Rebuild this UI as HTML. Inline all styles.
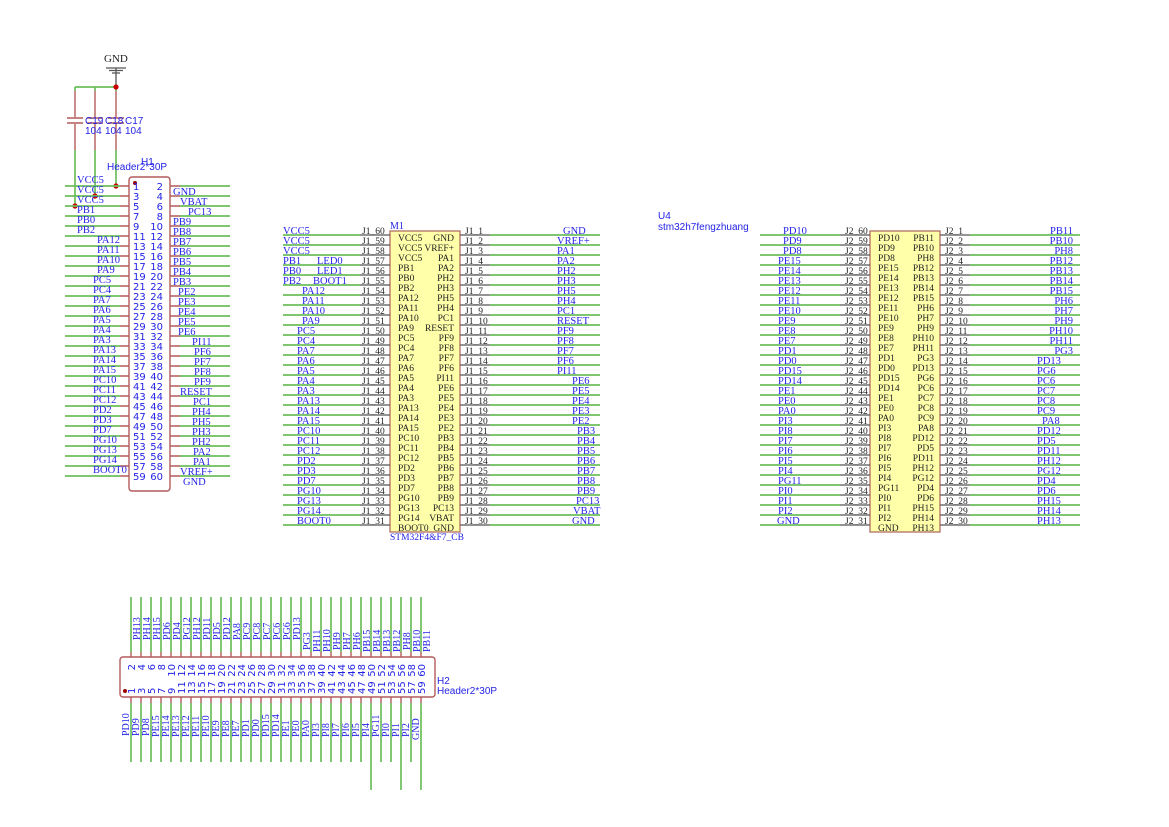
<!DOCTYPE html>
<html><head><meta charset="utf-8"><style>
html,body{margin:0;padding:0;background:#fff}
svg{display:block}
.n{font-family:"Liberation Serif",serif;font-size:10.5px;fill:#2323e6}
.j{font-family:"Liberation Serif",serif;font-size:9.5px;fill:#222}
.k{font-family:"Liberation Serif",serif;font-size:9.5px;fill:#222}
.p{font-family:"DejaVu Sans","Liberation Sans",sans-serif;font-size:10px;fill:#2323e6}
.q{font-family:"Liberation Sans",sans-serif;font-size:10px;fill:#2323e6}
.g{stroke:#6cbf5c;stroke-width:1.7;fill:none}
.r{stroke:#b35a5a;stroke-width:1.4;fill:none}
.d{stroke:#555;stroke-width:1.3;fill:none}
.e{text-anchor:end}
</style></head><body>
<svg width="1169" height="827" viewBox="0 0 1169 827" xmlns="http://www.w3.org/2000/svg">
<!-- GND symbol and caps -->
<text x="104" y="62" class="k" style="font-size:11px">GND</text>
<path class="d" d="M106 68h20M109 70.5h14M112 73h8M116 68v19"/>
<path class="g" d="M75 87h41M75 87v4M95 87v4M116 87v4M75 150v56M95 150v46M116 150v36"/>
<path class="r" stroke="#c98a8a" d="M75 91v26M95 91v26M116 91v26M75 124v26M95 124v26M116 124v26"/>
<path class="r" stroke-width="2" d="M67 118h16M67 123h16M87 118h16M87 123h16M108 118h16M108 123h16"/>
<text x="85" y="124" class="q" style="font-size:10px">C19</text><text x="85" y="134" class="q">104</text>
<text x="105" y="124" class="q">C18</text><text x="105" y="134" class="q">104</text>
<text x="125" y="124" class="q">C17</text><text x="125" y="134" class="q">104</text>
<circle cx="116" cy="87" r="2.6" fill="#c00"/><circle cx="116" cy="186" r="2.6" fill="#c00"/>
<circle cx="95" cy="196" r="2.6" fill="#c00"/><circle cx="75" cy="206" r="2.6" fill="#c00"/>

<!-- H1 -->
<text x="141" y="165" class="q">H1</text>
<text x="107" y="170" class="q">Header2*30P</text>
<rect x="129" y="177" width="41" height="314" rx="3" class="r" fill="none"/>
<circle cx="135" cy="183" r="2" fill="#900"/>
<path class="g" d="M65 186h55M65 196h55M65 206h55M65 216h55M65 226h55M65 236h55M65 246h55M65 256h55M65 266h55M65 276h55M65 286h55M65 296h55M65 306h55M65 316h55M65 326h55M65 336h55M65 346h55M65 356h55M65 366h55M65 376h55M65 386h55M65 396h55M65 406h55M65 416h55M65 426h55M65 436h55M65 446h55M65 456h55M65 466h55M65 476h55
M180 186h50M180 196h50M180 206h50M180 216h50M180 226h50M180 236h50M180 246h50M180 256h50M180 266h50M180 276h50M180 286h50M180 296h50M180 306h50M180 316h50M180 326h50M180 336h50M180 346h50M180 356h50M180 366h50M180 376h50M180 386h50M180 396h50M180 406h50M180 416h50M180 426h50M180 436h50M180 446h50M180 456h50M180 466h50M180 476h50"/>
<path class="r" d="M120 186h9M120 196h9M120 206h9M120 216h9M120 226h9M120 236h9M120 246h9M120 256h9M120 266h9M120 276h9M120 286h9M120 296h9M120 306h9M120 316h9M120 326h9M120 336h9M120 346h9M120 356h9M120 366h9M120 376h9M120 386h9M120 396h9M120 406h9M120 416h9M120 426h9M120 436h9M120 446h9M120 456h9M120 466h9M120 476h9
M170 186h10M170 196h10M170 206h10M170 216h10M170 226h10M170 236h10M170 246h10M170 256h10M170 266h10M170 276h10M170 286h10M170 296h10M170 306h10M170 316h10M170 326h10M170 336h10M170 346h10M170 356h10M170 366h10M170 376h10M170 386h10M170 396h10M170 406h10M170 416h10M170 426h10M170 436h10M170 446h10M170 456h10M170 466h10M170 476h10"/>
<g class="n">
<text x="77" y="183">VCC5</text><text x="77" y="193">VCC5</text><text x="77" y="203">VCC5</text><text x="77" y="213">PB1</text><text x="77" y="223">PB0</text><text x="77" y="233">PB2</text>
<text x="97" y="243">PA12</text><text x="97" y="253">PA11</text><text x="97" y="263">PA10</text><text x="97" y="273">PA9</text>
<text x="93" y="283">PC5</text><text x="93" y="293">PC4</text><text x="93" y="303">PA7</text><text x="93" y="313">PA6</text><text x="93" y="323">PA5</text><text x="93" y="333">PA4</text><text x="93" y="343">PA3</text><text x="93" y="353">PA13</text><text x="93" y="363">PA14</text><text x="93" y="373">PA15</text><text x="93" y="383">PC10</text><text x="93" y="393">PC11</text><text x="93" y="403">PC12</text><text x="93" y="413">PD2</text><text x="93" y="423">PD3</text><text x="93" y="433">PD7</text><text x="93" y="443">PG10</text><text x="93" y="453">PG13</text><text x="93" y="463">PG14</text><text x="93" y="473">BOOT0</text>
<text x="173" y="195">GND</text><text x="180" y="205">VBAT</text><text x="188" y="215">PC13</text><text x="173" y="225">PB9</text><text x="173" y="235">PB8</text><text x="173" y="245">PB7</text><text x="173" y="255">PB6</text><text x="173" y="265">PB5</text><text x="173" y="275">PB4</text><text x="173" y="285">PB3</text>
<text x="178" y="295">PE2</text><text x="178" y="305">PE3</text><text x="178" y="315">PE4</text><text x="178" y="325">PE5</text><text x="178" y="335">PE6</text>
<text x="192" y="345">PI11</text><text x="194" y="355">PF6</text><text x="194" y="365">PF7</text><text x="194" y="375">PF8</text><text x="194" y="385">PF9</text><text x="180" y="395">RESET</text>
<text x="193" y="405">PC1</text><text x="192" y="415">PH4</text><text x="192" y="425">PH5</text><text x="192" y="435">PH3</text><text x="192" y="445">PH2</text><text x="193" y="455">PA2</text><text x="193" y="465">PA1</text><text x="180" y="475">VREF+</text><text x="183" y="485">GND</text>
</g>
<g class="p">
<text x="133" y="190">1</text><text x="133" y="200">3</text><text x="133" y="210">5</text><text x="133" y="220">7</text><text x="133" y="230">9</text><text x="133" y="240">11</text><text x="133" y="250">13</text><text x="133" y="260">15</text><text x="133" y="270">17</text><text x="133" y="280">19</text><text x="133" y="290">21</text><text x="133" y="300">23</text><text x="133" y="310">25</text><text x="133" y="320">27</text><text x="133" y="330">29</text><text x="133" y="340">31</text><text x="133" y="350">33</text><text x="133" y="360">35</text><text x="133" y="370">37</text><text x="133" y="380">39</text><text x="133" y="390">41</text><text x="133" y="400">43</text><text x="133" y="410">45</text><text x="133" y="420">47</text><text x="133" y="430">49</text><text x="133" y="440">51</text><text x="133" y="450">53</text><text x="133" y="460">55</text><text x="133" y="470">57</text><text x="133" y="480">59</text>
</g>
<g class="p e">
<text x="163" y="190">2</text><text x="163" y="200">4</text><text x="163" y="210">6</text><text x="163" y="220">8</text><text x="163" y="230">10</text><text x="163" y="240">12</text><text x="163" y="250">14</text><text x="163" y="260">16</text><text x="163" y="270">18</text><text x="163" y="280">20</text><text x="163" y="290">22</text><text x="163" y="300">24</text><text x="163" y="310">26</text><text x="163" y="320">28</text><text x="163" y="330">30</text><text x="163" y="340">32</text><text x="163" y="350">34</text><text x="163" y="360">36</text><text x="163" y="370">38</text><text x="163" y="380">40</text><text x="163" y="390">42</text><text x="163" y="400">44</text><text x="163" y="410">46</text><text x="163" y="420">48</text><text x="163" y="430">50</text><text x="163" y="440">52</text><text x="163" y="450">54</text><text x="163" y="460">56</text><text x="163" y="470">58</text><text x="163" y="480">60</text>
</g>

<!-- M1 -->
<rect x="390" y="231" width="70" height="301" fill="#ffffaa" stroke="#b07060" stroke-width="1.3"/>
<text x="390" y="229" class="n" style="font-size:10px">M1</text>
<text x="390" y="540" class="n" style="font-size:9.5px">STM32F4&amp;F7_CB</text>
<path class="g" d="M283 235h77M283 245h77M283 255h77M283 265h77M283 275h77M283 285h77M283 295h77M283 305h77M283 315h77M283 325h77M283 335h77M283 345h77M283 355h77M283 365h77M283 375h77M283 385h77M283 395h77M283 405h77M283 415h77M283 425h77M283 435h77M283 445h77M283 455h77M283 465h77M283 475h77M283 485h77M283 495h77M283 505h77M283 515h77M283 525h77
M490 235h110M490 245h110M490 255h110M490 265h110M490 275h110M490 285h110M490 295h110M490 305h110M490 315h110M490 325h110M490 335h110M490 345h110M490 355h110M490 365h110M490 375h110M490 385h110M490 395h110M490 405h110M490 415h110M490 425h110M490 435h110M490 445h110M490 455h110M490 465h110M490 475h110M490 485h110M490 495h110M490 505h110M490 515h110M490 525h110"/>
<path class="d" d="M360 235h30M360 245h30M360 255h30M360 265h30M360 275h30M360 285h30M360 295h30M360 305h30M360 315h30M360 325h30M360 335h30M360 345h30M360 355h30M360 365h30M360 375h30M360 385h30M360 395h30M360 405h30M360 415h30M360 425h30M360 435h30M360 445h30M360 455h30M360 465h30M360 475h30M360 485h30M360 495h30M360 505h30M360 515h30M360 525h30
M460 235h30M460 245h30M460 255h30M460 265h30M460 275h30M460 285h30M460 295h30M460 305h30M460 315h30M460 325h30M460 335h30M460 345h30M460 355h30M460 365h30M460 375h30M460 385h30M460 395h30M460 405h30M460 415h30M460 425h30M460 435h30M460 445h30M460 455h30M460 465h30M460 475h30M460 485h30M460 495h30M460 505h30M460 515h30M460 525h30"/>
<g class="n">
<text x="283" y="234">VCC5</text><text x="283" y="244">VCC5</text><text x="283" y="254">VCC5</text><text x="283" y="264">PB1</text><text x="283" y="274">PB0</text><text x="283" y="284">PB2</text>
<text x="317" y="264">LED0</text><text x="317" y="274">LED1</text><text x="313" y="284">BOOT1</text>
<text x="302" y="294">PA12</text><text x="302" y="304">PA11</text><text x="302" y="314">PA10</text><text x="302" y="324">PA9</text>
<text x="297" y="334">PC5</text><text x="297" y="344">PC4</text><text x="297" y="354">PA7</text><text x="297" y="364">PA6</text><text x="297" y="374">PA5</text><text x="297" y="384">PA4</text><text x="297" y="394">PA3</text><text x="297" y="404">PA13</text><text x="297" y="414">PA14</text><text x="297" y="424">PA15</text><text x="297" y="434">PC10</text><text x="297" y="444">PC11</text><text x="297" y="454">PC12</text><text x="297" y="464">PD2</text><text x="297" y="474">PD3</text><text x="297" y="484">PD7</text><text x="297" y="494">PG10</text><text x="297" y="504">PG13</text><text x="297" y="514">PG14</text><text x="297" y="524">BOOT0</text>
<text x="563" y="234">GND</text><text x="557" y="244">VREF+</text><text x="557" y="254">PA1</text><text x="557" y="264">PA2</text><text x="557" y="274">PH2</text><text x="557" y="284">PH3</text><text x="557" y="294">PH5</text><text x="557" y="304">PH4</text><text x="557" y="314">PC1</text><text x="557" y="324">RESET</text><text x="557" y="334">PF9</text><text x="557" y="344">PF8</text><text x="557" y="354">PF7</text><text x="557" y="364">PF6</text><text x="557" y="374">PI11</text>
<text x="572" y="384">PE6</text><text x="572" y="394">PE5</text><text x="572" y="404">PE4</text><text x="572" y="414">PE3</text><text x="572" y="424">PE2</text>
<text x="577" y="434">PB3</text><text x="577" y="444">PB4</text><text x="577" y="454">PB5</text><text x="577" y="464">PB6</text><text x="577" y="474">PB7</text><text x="577" y="484">PB8</text><text x="577" y="494">PB9</text><text x="576" y="504">PC13</text><text x="573" y="514">VBAT</text><text x="572" y="524">GND</text>
</g>
<g class="j">
<text x="362" y="234">J1_60</text><text x="362" y="244">J1_59</text><text x="362" y="254">J1_58</text><text x="362" y="264">J1_57</text><text x="362" y="274">J1_56</text><text x="362" y="284">J1_55</text><text x="362" y="294">J1_54</text><text x="362" y="304">J1_53</text><text x="362" y="314">J1_52</text><text x="362" y="324">J1_51</text><text x="362" y="334">J1_50</text><text x="362" y="344">J1_49</text><text x="362" y="354">J1_48</text><text x="362" y="364">J1_47</text><text x="362" y="374">J1_46</text><text x="362" y="384">J1_45</text><text x="362" y="394">J1_44</text><text x="362" y="404">J1_43</text><text x="362" y="414">J1_42</text><text x="362" y="424">J1_41</text><text x="362" y="434">J1_40</text><text x="362" y="444">J1_39</text><text x="362" y="454">J1_38</text><text x="362" y="464">J1_37</text><text x="362" y="474">J1_36</text><text x="362" y="484">J1_35</text><text x="362" y="494">J1_34</text><text x="362" y="504">J1_33</text><text x="362" y="514">J1_32</text><text x="362" y="524">J1_31</text>
<text x="465" y="234">J1_1</text><text x="465" y="244">J1_2</text><text x="465" y="254">J1_3</text><text x="465" y="264">J1_4</text><text x="465" y="274">J1_5</text><text x="465" y="284">J1_6</text><text x="465" y="294">J1_7</text><text x="465" y="304">J1_8</text><text x="465" y="314">J1_9</text><text x="465" y="324">J1_10</text><text x="465" y="334">J1_11</text><text x="465" y="344">J1_12</text><text x="465" y="354">J1_13</text><text x="465" y="364">J1_14</text><text x="465" y="374">J1_15</text><text x="465" y="384">J1_16</text><text x="465" y="394">J1_17</text><text x="465" y="404">J1_18</text><text x="465" y="414">J1_19</text><text x="465" y="424">J1_20</text><text x="465" y="434">J1_21</text><text x="465" y="444">J1_22</text><text x="465" y="454">J1_23</text><text x="465" y="464">J1_24</text><text x="465" y="474">J1_25</text><text x="465" y="484">J1_26</text><text x="465" y="494">J1_27</text><text x="465" y="504">J1_28</text><text x="465" y="514">J1_29</text><text x="465" y="524">J1_30</text>
</g>
<g class="k">
<text x="398" y="241">VCC5</text><text x="398" y="251">VCC5</text><text x="398" y="261">VCC5</text><text x="398" y="271">PB1</text><text x="398" y="281">PB0</text><text x="398" y="291">PB2</text><text x="398" y="301">PA12</text><text x="398" y="311">PA11</text><text x="398" y="321">PA10</text><text x="398" y="331">PA9</text><text x="398" y="341">PC5</text><text x="398" y="351">PC4</text><text x="398" y="361">PA7</text><text x="398" y="371">PA6</text><text x="398" y="381">PA5</text><text x="398" y="391">PA4</text><text x="398" y="401">PA3</text><text x="398" y="411">PA13</text><text x="398" y="421">PA14</text><text x="398" y="431">PA15</text><text x="398" y="441">PC10</text><text x="398" y="451">PC11</text><text x="398" y="461">PC12</text><text x="398" y="471">PD2</text><text x="398" y="481">PD3</text><text x="398" y="491">PD7</text><text x="398" y="501">PG10</text><text x="398" y="511">PG13</text><text x="398" y="521">PG14</text><text x="398" y="531">BOOT0</text>
</g>
<g class="k e">
<text x="454" y="241">GND</text><text x="454" y="251">VREF+</text><text x="454" y="261">PA1</text><text x="454" y="271">PA2</text><text x="454" y="281">PH2</text><text x="454" y="291">PH3</text><text x="454" y="301">PH5</text><text x="454" y="311">PH4</text><text x="454" y="321">PC1</text><text x="454" y="331">RESET</text><text x="454" y="341">PF9</text><text x="454" y="351">PF8</text><text x="454" y="361">PF7</text><text x="454" y="371">PF6</text><text x="454" y="381">PI11</text><text x="454" y="391">PE6</text><text x="454" y="401">PE5</text><text x="454" y="411">PE4</text><text x="454" y="421">PE3</text><text x="454" y="431">PE2</text><text x="454" y="441">PB3</text><text x="454" y="451">PB4</text><text x="454" y="461">PB5</text><text x="454" y="471">PB6</text><text x="454" y="481">PB7</text><text x="454" y="491">PB8</text><text x="454" y="501">PB9</text><text x="454" y="511">PC13</text><text x="454" y="521">VBAT</text><text x="454" y="531">GND</text>
</g>

<!-- U4 -->
<text x="658" y="219" class="q" style="font-size:10px">U4</text>
<text x="658" y="230" class="q" style="font-size:10px">stm32h7fengzhuang</text>
<rect x="870" y="231" width="70" height="301" fill="#ffffaa" stroke="#b07060" stroke-width="1.3"/>
<path class="g" d="M760 235h80M760 245h80M760 255h80M760 265h80M760 275h80M760 285h80M760 295h80M760 305h80M760 315h80M760 325h80M760 335h80M760 345h80M760 355h80M760 365h80M760 375h80M760 385h80M760 395h80M760 405h80M760 415h80M760 425h80M760 435h80M760 445h80M760 455h80M760 465h80M760 475h80M760 485h80M760 495h80M760 505h80M760 515h80M760 525h80
M970 235h110M970 245h110M970 255h110M970 265h110M970 275h110M970 285h110M970 295h110M970 305h110M970 315h110M970 325h110M970 335h110M970 345h110M970 355h110M970 365h110M970 375h110M970 385h110M970 395h110M970 405h110M970 415h110M970 425h110M970 435h110M970 445h110M970 455h110M970 465h110M970 475h110M970 485h110M970 495h110M970 505h110M970 515h110M970 525h110"/>
<path class="d" d="M840 235h30M840 245h30M840 255h30M840 265h30M840 275h30M840 285h30M840 295h30M840 305h30M840 315h30M840 325h30M840 335h30M840 345h30M840 355h30M840 365h30M840 375h30M840 385h30M840 395h30M840 405h30M840 415h30M840 425h30M840 435h30M840 445h30M840 455h30M840 465h30M840 475h30M840 485h30M840 495h30M840 505h30M840 515h30M840 525h30
M940 235h30M940 245h30M940 255h30M940 265h30M940 275h30M940 285h30M940 295h30M940 305h30M940 315h30M940 325h30M940 335h30M940 345h30M940 355h30M940 365h30M940 375h30M940 385h30M940 395h30M940 405h30M940 415h30M940 425h30M940 435h30M940 445h30M940 455h30M940 465h30M940 475h30M940 485h30M940 495h30M940 505h30M940 515h30M940 525h30"/>
<g class="n">
<text x="783" y="234">PD10</text><text x="783" y="244">PD9</text><text x="783" y="254">PD8</text><text x="778" y="264">PE15</text><text x="778" y="274">PE14</text><text x="778" y="284">PE13</text><text x="778" y="294">PE12</text><text x="778" y="304">PE11</text><text x="778" y="314">PE10</text><text x="778" y="324">PE9</text><text x="778" y="334">PE8</text><text x="778" y="344">PE7</text><text x="778" y="354">PD1</text><text x="778" y="364">PD0</text><text x="778" y="374">PD15</text><text x="778" y="384">PD14</text><text x="778" y="394">PE1</text><text x="778" y="404">PE0</text><text x="778" y="414">PA0</text><text x="778" y="424">PI3</text><text x="778" y="434">PI8</text><text x="778" y="444">PI7</text><text x="778" y="454">PI6</text><text x="778" y="464">PI5</text><text x="778" y="474">PI4</text><text x="778" y="484">PG11</text><text x="778" y="494">PI0</text><text x="778" y="504">PI1</text><text x="778" y="514">PI2</text><text x="777" y="524">GND</text>
<text x="1037" y="364">PD13</text><text x="1037" y="374">PG6</text><text x="1037" y="384">PC6</text><text x="1037" y="394">PC7</text><text x="1037" y="404">PC8</text><text x="1037" y="414">PC9</text><text x="1042" y="424">PA8</text><text x="1037" y="434">PD12</text><text x="1037" y="444">PD5</text><text x="1037" y="454">PD11</text><text x="1037" y="464">PH12</text><text x="1037" y="474">PG12</text><text x="1037" y="484">PD4</text><text x="1037" y="494">PD6</text><text x="1037" y="504">PH15</text><text x="1037" y="514">PH14</text><text x="1037" y="524">PH13</text>
</g>
<g class="n e">
<text x="1073" y="234">PB11</text><text x="1073" y="244">PB10</text><text x="1073" y="254">PH8</text><text x="1073" y="264">PB12</text><text x="1073" y="274">PB13</text><text x="1073" y="284">PB14</text><text x="1073" y="294">PB15</text><text x="1073" y="304">PH6</text><text x="1073" y="314">PH7</text><text x="1073" y="324">PH9</text><text x="1073" y="334">PH10</text><text x="1073" y="344">PH11</text><text x="1073" y="354">PG3</text>
</g>
<g class="j">
<text x="845" y="234">J2_60</text><text x="845" y="244">J2_59</text><text x="845" y="254">J2_58</text><text x="845" y="264">J2_57</text><text x="845" y="274">J2_56</text><text x="845" y="284">J2_55</text><text x="845" y="294">J2_54</text><text x="845" y="304">J2_53</text><text x="845" y="314">J2_52</text><text x="845" y="324">J2_51</text><text x="845" y="334">J2_50</text><text x="845" y="344">J2_49</text><text x="845" y="354">J2_48</text><text x="845" y="364">J2_47</text><text x="845" y="374">J2_46</text><text x="845" y="384">J2_45</text><text x="845" y="394">J2_44</text><text x="845" y="404">J2_43</text><text x="845" y="414">J2_42</text><text x="845" y="424">J2_41</text><text x="845" y="434">J2_40</text><text x="845" y="444">J2_39</text><text x="845" y="454">J2_38</text><text x="845" y="464">J2_37</text><text x="845" y="474">J2_36</text><text x="845" y="484">J2_35</text><text x="845" y="494">J2_34</text><text x="845" y="504">J2_33</text><text x="845" y="514">J2_32</text><text x="845" y="524">J2_31</text>
<text x="945" y="234">J2_1</text><text x="945" y="244">J2_2</text><text x="945" y="254">J2_3</text><text x="945" y="264">J2_4</text><text x="945" y="274">J2_5</text><text x="945" y="284">J2_6</text><text x="945" y="294">J2_7</text><text x="945" y="304">J2_8</text><text x="945" y="314">J2_9</text><text x="945" y="324">J2_10</text><text x="945" y="334">J2_11</text><text x="945" y="344">J2_12</text><text x="945" y="354">J2_13</text><text x="945" y="364">J2_14</text><text x="945" y="374">J2_15</text><text x="945" y="384">J2_16</text><text x="945" y="394">J2_17</text><text x="945" y="404">J2_18</text><text x="945" y="414">J2_19</text><text x="945" y="424">J2_20</text><text x="945" y="434">J2_21</text><text x="945" y="444">J2_22</text><text x="945" y="454">J2_23</text><text x="945" y="464">J2_24</text><text x="945" y="474">J2_25</text><text x="945" y="484">J2_26</text><text x="945" y="494">J2_27</text><text x="945" y="504">J2_28</text><text x="945" y="514">J2_29</text><text x="945" y="524">J2_30</text>
</g>
<g class="k">
<text x="878" y="241">PD10</text><text x="878" y="251">PD9</text><text x="878" y="261">PD8</text><text x="878" y="271">PE15</text><text x="878" y="281">PE14</text><text x="878" y="291">PE13</text><text x="878" y="301">PE12</text><text x="878" y="311">PE11</text><text x="878" y="321">PE10</text><text x="878" y="331">PE9</text><text x="878" y="341">PE8</text><text x="878" y="351">PE7</text><text x="878" y="361">PD1</text><text x="878" y="371">PD0</text><text x="878" y="381">PD15</text><text x="878" y="391">PD14</text><text x="878" y="401">PE1</text><text x="878" y="411">PE0</text><text x="878" y="421">PA0</text><text x="878" y="431">PI3</text><text x="878" y="441">PI8</text><text x="878" y="451">PI7</text><text x="878" y="461">PI6</text><text x="878" y="471">PI5</text><text x="878" y="481">PI4</text><text x="878" y="491">PG11</text><text x="878" y="501">PI0</text><text x="878" y="511">PI1</text><text x="878" y="521">PI2</text><text x="878" y="531">GND</text>
</g>
<g class="k e">
<text x="934" y="241">PB11</text><text x="934" y="251">PB10</text><text x="934" y="261">PH8</text><text x="934" y="271">PB12</text><text x="934" y="281">PB13</text><text x="934" y="291">PB14</text><text x="934" y="301">PB15</text><text x="934" y="311">PH6</text><text x="934" y="321">PH7</text><text x="934" y="331">PH9</text><text x="934" y="341">PH10</text><text x="934" y="351">PH11</text><text x="934" y="361">PG3</text><text x="934" y="371">PD13</text><text x="934" y="381">PG6</text><text x="934" y="391">PC6</text><text x="934" y="401">PC7</text><text x="934" y="411">PC8</text><text x="934" y="421">PC9</text><text x="934" y="431">PA8</text><text x="934" y="441">PD12</text><text x="934" y="451">PD5</text><text x="934" y="461">PD11</text><text x="934" y="471">PH12</text><text x="934" y="481">PG12</text><text x="934" y="491">PD4</text><text x="934" y="501">PD6</text><text x="934" y="511">PH15</text><text x="934" y="521">PH14</text><text x="934" y="531">PH13</text>
</g>

<!-- H2 -->
<rect x="120" y="657" width="315" height="40" rx="3" class="r" fill="none"/>
<circle cx="125" cy="691" r="2" fill="#900"/>
<text x="437" y="684" class="q">H2</text>
<text x="437" y="694" class="q">Header2*30P</text>
<path class="g" d="M131 597v55M141 597v55M151 597v55M161 597v55M171 597v55M181 597v55M191 597v55M201 597v55M211 597v55M221 597v55M231 597v55M241 597v55M251 597v55M261 597v55M271 597v55M281 597v55M291 597v55M301 597v55M311 597v55M321 597v55M331 597v55M341 597v55M351 597v55M361 597v55M371 597v55M381 597v55M391 597v55M401 597v55M411 597v55M421 597v55
M131 703v59M141 703v59M151 703v59M161 703v59M171 703v59M181 703v59M191 703v59M201 703v59M211 703v59M221 703v59M231 703v59M241 703v59M251 703v59M261 703v59M271 703v59M281 703v59M291 703v59M301 703v59M311 703v59M321 703v59M331 703v59M341 703v59M351 703v59M361 703v59M371 703v87M381 703v59M391 703v59M401 703v87M411 703v59M421 703v87"/>
<path class="r" d="M131 652v5M141 652v5M151 652v5M161 652v5M171 652v5M181 652v5M191 652v5M201 652v5M211 652v5M221 652v5M231 652v5M241 652v5M251 652v5M261 652v5M271 652v5M281 652v5M291 652v5M301 652v5M311 652v5M321 652v5M331 652v5M341 652v5M351 652v5M361 652v5M371 652v5M381 652v5M391 652v5M401 652v5M411 652v5M421 652v5
M131 697v6M141 697v6M151 697v6M161 697v6M171 697v6M181 697v6M191 697v6M201 697v6M211 697v6M221 697v6M231 697v6M241 697v6M251 697v6M261 697v6M271 697v6M281 697v6M291 697v6M301 697v6M311 697v6M321 697v6M331 697v6M341 697v6M351 697v6M361 697v6M371 697v6M381 697v6M391 697v6M401 697v6M411 697v6M421 697v6"/>
<g class="n" style="font-size:10px">
<text transform="translate(140,640) rotate(-90)">PH13</text><text transform="translate(150,640) rotate(-90)">PH14</text><text transform="translate(160,640) rotate(-90)">PH15</text><text transform="translate(170,640) rotate(-90)">PD6</text><text transform="translate(180,640) rotate(-90)">PD4</text><text transform="translate(190,640) rotate(-90)">PG12</text><text transform="translate(200,640) rotate(-90)">PH12</text><text transform="translate(210,640) rotate(-90)">PD11</text><text transform="translate(220,640) rotate(-90)">PD5</text><text transform="translate(230,640) rotate(-90)">PD12</text><text transform="translate(240,640) rotate(-90)">PA8</text><text transform="translate(250,640) rotate(-90)">PC9</text><text transform="translate(260,640) rotate(-90)">PC8</text><text transform="translate(270,640) rotate(-90)">PC7</text><text transform="translate(280,640) rotate(-90)">PC6</text><text transform="translate(290,640) rotate(-90)">PG6</text><text transform="translate(300,640) rotate(-90)">PD13</text>
<text transform="translate(310,650) rotate(-90)">PG3</text><text transform="translate(320,652) rotate(-90)">PH11</text><text transform="translate(330,652) rotate(-90)">PH10</text><text transform="translate(340,650) rotate(-90)">PH9</text><text transform="translate(350,650) rotate(-90)">PH7</text><text transform="translate(360,650) rotate(-90)">PH6</text><text transform="translate(370,652) rotate(-90)">PB15</text><text transform="translate(380,652) rotate(-90)">PB14</text><text transform="translate(390,652) rotate(-90)">PB13</text><text transform="translate(400,652) rotate(-90)">PB12</text><text transform="translate(410,650) rotate(-90)">PH8</text><text transform="translate(420,652) rotate(-90)">PB10</text><text transform="translate(430,652) rotate(-90)">PB11</text>
<text transform="translate(129,736) rotate(-90)">PD10</text><text transform="translate(139,736) rotate(-90)">PD9</text><text transform="translate(149,736) rotate(-90)">PD8</text><text transform="translate(159,737) rotate(-90)">PE15</text><text transform="translate(169,737) rotate(-90)">PE14</text><text transform="translate(179,737) rotate(-90)">PE13</text><text transform="translate(189,737) rotate(-90)">PE12</text><text transform="translate(199,737) rotate(-90)">PE11</text><text transform="translate(209,737) rotate(-90)">PE10</text><text transform="translate(219,737) rotate(-90)">PE9</text><text transform="translate(229,737) rotate(-90)">PE8</text><text transform="translate(239,737) rotate(-90)">PE7</text><text transform="translate(249,737) rotate(-90)">PD1</text><text transform="translate(259,737) rotate(-90)">PD0</text><text transform="translate(269,737) rotate(-90)">PD15</text><text transform="translate(279,737) rotate(-90)">PD14</text><text transform="translate(289,737) rotate(-90)">PE1</text><text transform="translate(299,737) rotate(-90)">PE0</text><text transform="translate(309,737) rotate(-90)">PA0</text><text transform="translate(319,737) rotate(-90)">PI3</text><text transform="translate(329,737) rotate(-90)">PI8</text><text transform="translate(339,737) rotate(-90)">PI7</text><text transform="translate(349,737) rotate(-90)">PI6</text><text transform="translate(359,737) rotate(-90)">PI5</text><text transform="translate(369,737) rotate(-90)">PI4</text><text transform="translate(379,737) rotate(-90)">PG11</text><text transform="translate(389,737) rotate(-90)">PI0</text><text transform="translate(399,737) rotate(-90)">PI1</text><text transform="translate(409,737) rotate(-90)">PI2</text><text transform="translate(419,740) rotate(-90)">GND</text>
</g>
<g class="p" style="text-anchor:end">
<text transform="translate(135,664) rotate(-90)">2</text><text transform="translate(145,664) rotate(-90)">4</text><text transform="translate(155,664) rotate(-90)">6</text><text transform="translate(165,664) rotate(-90)">8</text><text transform="translate(175,664) rotate(-90)">10</text><text transform="translate(185,664) rotate(-90)">12</text><text transform="translate(195,664) rotate(-90)">14</text><text transform="translate(205,664) rotate(-90)">16</text><text transform="translate(215,664) rotate(-90)">18</text><text transform="translate(225,664) rotate(-90)">20</text><text transform="translate(235,664) rotate(-90)">22</text><text transform="translate(245,664) rotate(-90)">24</text><text transform="translate(255,664) rotate(-90)">26</text><text transform="translate(265,664) rotate(-90)">28</text><text transform="translate(275,664) rotate(-90)">30</text><text transform="translate(285,664) rotate(-90)">32</text><text transform="translate(295,664) rotate(-90)">34</text><text transform="translate(305,664) rotate(-90)">36</text><text transform="translate(315,664) rotate(-90)">38</text><text transform="translate(325,664) rotate(-90)">40</text><text transform="translate(335,664) rotate(-90)">42</text><text transform="translate(345,664) rotate(-90)">44</text><text transform="translate(355,664) rotate(-90)">46</text><text transform="translate(365,664) rotate(-90)">48</text><text transform="translate(375,664) rotate(-90)">50</text><text transform="translate(385,664) rotate(-90)">52</text><text transform="translate(395,664) rotate(-90)">54</text><text transform="translate(405,664) rotate(-90)">56</text><text transform="translate(415,664) rotate(-90)">58</text><text transform="translate(425,664) rotate(-90)">60</text>
</g>
<g class="p">
<text transform="translate(135,694) rotate(-90)">1</text><text transform="translate(145,694) rotate(-90)">3</text><text transform="translate(155,694) rotate(-90)">5</text><text transform="translate(165,694) rotate(-90)">7</text><text transform="translate(175,694) rotate(-90)">9</text><text transform="translate(185,694) rotate(-90)">11</text><text transform="translate(195,694) rotate(-90)">13</text><text transform="translate(205,694) rotate(-90)">15</text><text transform="translate(215,694) rotate(-90)">17</text><text transform="translate(225,694) rotate(-90)">19</text><text transform="translate(235,694) rotate(-90)">21</text><text transform="translate(245,694) rotate(-90)">23</text><text transform="translate(255,694) rotate(-90)">25</text><text transform="translate(265,694) rotate(-90)">27</text><text transform="translate(275,694) rotate(-90)">29</text><text transform="translate(285,694) rotate(-90)">31</text><text transform="translate(295,694) rotate(-90)">33</text><text transform="translate(305,694) rotate(-90)">35</text><text transform="translate(315,694) rotate(-90)">37</text><text transform="translate(325,694) rotate(-90)">39</text><text transform="translate(335,694) rotate(-90)">41</text><text transform="translate(345,694) rotate(-90)">43</text><text transform="translate(355,694) rotate(-90)">45</text><text transform="translate(365,694) rotate(-90)">47</text><text transform="translate(375,694) rotate(-90)">49</text><text transform="translate(385,694) rotate(-90)">51</text><text transform="translate(395,694) rotate(-90)">53</text><text transform="translate(405,694) rotate(-90)">55</text><text transform="translate(415,694) rotate(-90)">57</text><text transform="translate(425,694) rotate(-90)">59</text>
</g>
</svg>
</body></html>
